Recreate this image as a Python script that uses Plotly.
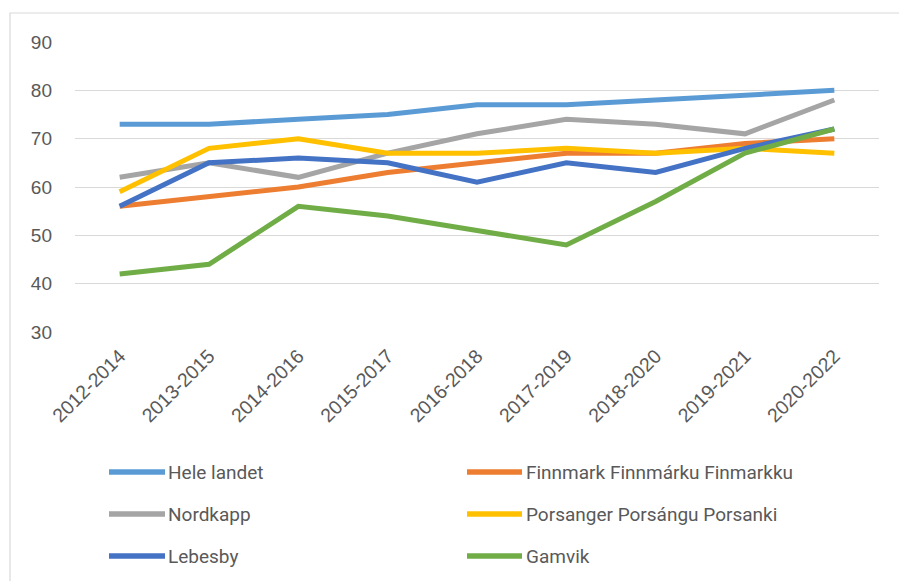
import plotly.graph_objects as go

# Three-year periods on the x axis
periods = ["2012-2014", "2013-2015", "2014-2016", "2015-2017", "2016-2018",
           "2017-2019", "2018-2020", "2019-2021", "2020-2022"]

# Series values per area
hele_landet = [73, 73, 74, 75, 77, 77, 78, 79, 80]
finnmark = [56, 58, 60, 63, 65, 67, 67, 69, 70]
nordkapp = [62, 65, 62, 67, 71, 74, 73, 71, 78]
porsanger = [59, 68, 70, 67, 67, 68, 67, 68, 67]
lebesby = [56, 65, 66, 65, 61, 65, 63, 68, 72]
gamvik = [42, 44, 56, 54, 51, 48, 57, 67, 72]

names = ["Hele landet", "Finnmark Finnmárku Finmarkku", "Nordkapp",
         "Porsanger Porsángu Porsanki", "Lebesby", "Gamvik"]
values = [hele_landet, finnmark, nordkapp, porsanger, lebesby, gamvik]
colors = ["#5B9BD5", "#ED7D31", "#A5A5A5", "#FFC000", "#4472C4", "#70AD47"]

y_ticks = [30, 40, 50, 60, 70, 80, 90]

fig = go.Figure()
for name, vals, col in zip(names, values, colors):
    fig.add_trace(go.Scatter(
        x=periods, y=vals, name=name, mode="lines",
        line=dict(color=col, width=5),
        showlegend=False,
    ))

# Plot-area geometry (pixels) used to place the custom legend
W, H = 899, 581
ML, MR, MT, MB = 75, 20, 42, 249
pw, ph = W - ML - MR, H - MT - MB


def px_x(x):
    return (x - ML) / pw


def px_y(y):
    return (H - MB - y) / ph


shapes = []
annotations = []

# Outer chart frame (light grey, runs past the right and bottom edges)
shapes.append(dict(type="rect", xref="paper", yref="paper",
                   x0=px_x(10), x1=px_x(W + 20), y0=px_y(H + 20), y1=px_y(13),
                   line=dict(color="#D9D9D9", width=1.2), fillcolor="rgba(0,0,0,0)",
                   layer="below"))

# Two-column legend with long line samples
col_line = [(109, 165), (467, 522)]
col_text = [166, 524]
row_y = [472, 514, 556]
for i, (name, col) in enumerate(zip(names, colors)):
    c, r = i % 2, i // 2
    x0, x1 = col_line[c]
    yy = px_y(row_y[r])
    shapes.append(dict(type="line", xref="paper", yref="paper",
                       x0=px_x(x0), x1=px_x(x1), y0=yy, y1=yy,
                       line=dict(color=col, width=5.5)))
    annotations.append(dict(xref="paper", yref="paper", x=px_x(col_text[c]), y=yy,
                            text=name, showarrow=False, xanchor="left", yanchor="middle",
                            font=dict(family="Roboto", size=19, color="#595959")))

fig.update_layout(
    width=W, height=H,
    margin=dict(l=ML, r=MR, t=MT, b=MB),
    paper_bgcolor="white", plot_bgcolor="white",
    shapes=shapes, annotations=annotations,
    font=dict(family="Liberation Sans", color="#595959"),
    xaxis=dict(
        type="category", tickangle=-45, range=[-0.5, len(periods) - 0.5],
        tickfont=dict(family="Liberation Sans", size=19.5, color="#595959"),
        showgrid=False, zeroline=False, showline=False, ticks="",
        ticklabelstandoff=8,
    ),
    yaxis=dict(
        range=[30, 90], tickvals=y_ticks,
        tickfont=dict(family="Liberation Sans", size=19, color="#595959"),
        showgrid=True, gridcolor="#D9D9D9", gridwidth=1.3,
        zeroline=False, showline=False, ticks="",
        ticklabelstandoff=22,
    ),
)

fig.write_html("out.html")
